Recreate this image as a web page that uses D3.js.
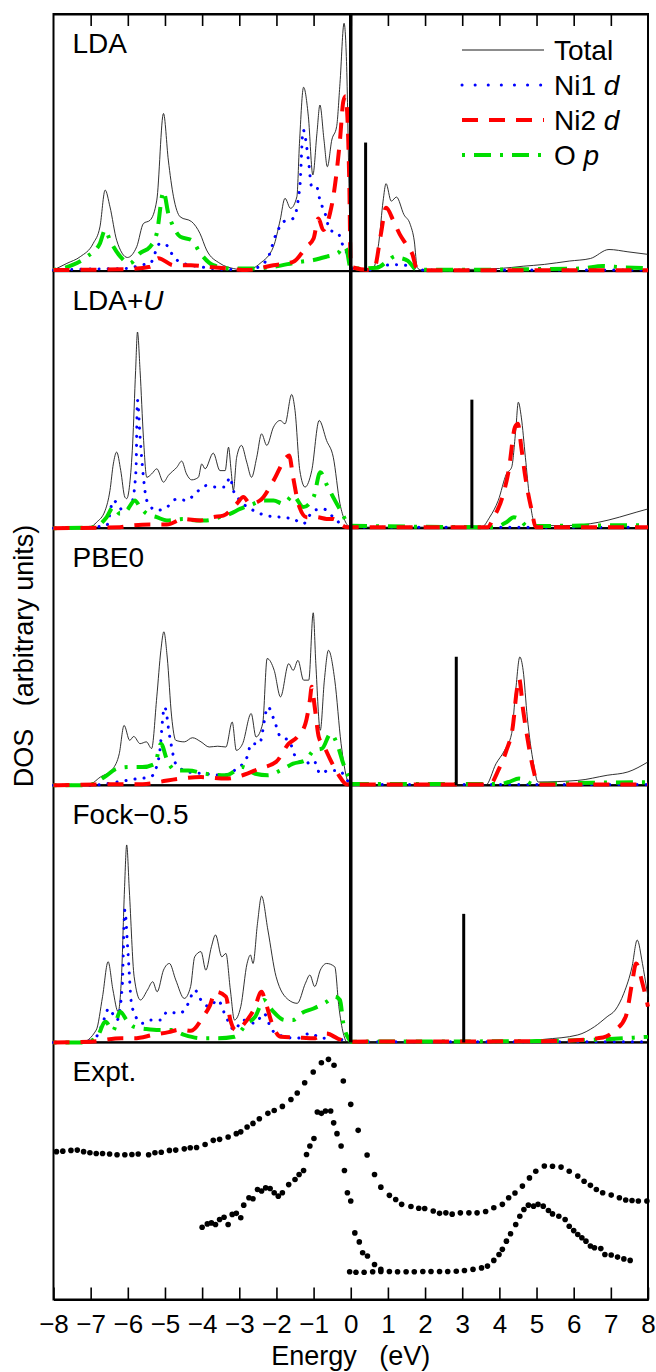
<!DOCTYPE html>
<html>
<head>
<meta charset="utf-8">
<script src="https://cdn.jsdelivr.net/npm/d3@7"></script>
<style>
  body { margin: 0; background: #fff; }
  svg { display: block; font-family: "Liberation Sans", Arial, Helvetica, sans-serif; }
</style>
</head>
<body>
<svg id="chart" width="656" height="1372"></svg>
<script>
// --- values: [energy (eV), DOS as fraction of panel height] ---

const ldaTotal = [[-8,0.004],[-7.64,0.03],[-7.28,0.056],[-6.93,0.108],[-6.75,0.172],[-6.61,0.315],[-6.48,0.25],[-6.3,0.12],[-6.01,0.053],[-5.76,0.095],[-5.58,0.185],[-5.4,0.198],[-5.22,0.276],[-5.04,0.613],[-4.91,0.432],[-4.77,0.289],[-4.59,0.211],[-4.28,0.192],[-4.06,0.147],[-3.88,0.082],[-3.52,0.03],[-3.16,0.01],[-2.8,0.004],[-2.44,0.03],[-2.08,0.095],[-1.9,0.198],[-1.77,0.283],[-1.62,0.244],[-1.45,0.289],[-1.38,0.497],[-1.27,0.715],[-1.14,0.6],[-1.02,0.374],[-0.91,0.536],[-0.83,0.646],[-0.72,0.51],[-0.63,0.406],[-0.51,0.51],[-0.38,0.562],[-0.29,0.73],[-0.18,0.964],[-0.11,0.795],[-0.04,0.276],[0,0.02],[0.3,0.005],[0.6,0.01],[0.76,0.117],[0.87,0.272],[0.95,0.34],[1.09,0.272],[1.23,0.288],[1.43,0.22],[1.6,0.182],[1.71,0.117],[1.79,0.013],[1.88,0.005],[3,0.006],[4,0.01],[4.64,0.019],[5.21,0.026],[5.88,0.039],[6.45,0.049],[6.95,0.084],[7.46,0.075],[8,0.065]];
const ldaNi1 = [[-8,0.004],[-7,0.008],[-6,0.01],[-5.67,0.023],[-5.4,0.03],[-5.13,0.108],[-4.95,0.1],[-4.77,0.056],[-4.5,0.03],[-4.05,0.017],[-3.3,0.006],[-2.62,0.01],[-2.26,0.043],[-2.0,0.147],[-1.81,0.192],[-1.55,0.205],[-1.37,0.328],[-1.28,0.549],[-1.14,0.432],[-1.05,0.328],[-0.92,0.328],[-0.83,0.276],[-0.69,0.224],[-0.56,0.16],[-0.34,0.147],[-0.2,0.095],[-0.07,0.056],[0,0.01],[0.5,0.005],[0.8,0.02],[1.2,0.025],[1.6,0.02],[1.8,0.004],[8,0.004]];
const ldaNi2 = [[-8,0.004],[-6,0.008],[-5.4,0.017],[-5.18,0.05],[-4.77,0.023],[-4.3,0.023],[-3.88,0.017],[-3.3,0.01],[-2.8,0.004],[-2.08,0.023],[-1.55,0.036],[-1.19,0.095],[-1.0,0.127],[-0.87,0.205],[-0.74,0.16],[-0.56,0.224],[-0.47,0.289],[-0.29,0.51],[-0.2,0.66],[-0.14,0.68],[-0.09,0.6],[-0.04,0.35],[0,0.017],[0.5,0.004],[0.64,0.013],[0.81,0.143],[0.95,0.246],[1.15,0.195],[1.32,0.143],[1.49,0.104],[1.66,0.065],[1.77,0.013],[2,0.003],[8,0.003]];
const ldaOp = [[-8,0.004],[-7.5,0.023],[-7.1,0.056],[-6.75,0.108],[-6.61,0.16],[-6.48,0.12],[-6.2,0.056],[-5.95,0.03],[-5.67,0.07],[-5.4,0.095],[-5.22,0.147],[-5.04,0.309],[-4.91,0.224],[-4.77,0.172],[-4.59,0.134],[-4.28,0.12],[-4.05,0.07],[-3.7,0.023],[-3.2,0.01],[-2.6,0.01],[-2.08,0.017],[-1.37,0.036],[-1.0,0.043],[-0.65,0.056],[-0.34,0.07],[-0.2,0.095],[-0.11,0.082],[0,0.01],[0.7,0.013],[1.04,0.045],[1.2,0.058],[1.32,0.052],[1.54,0.04],[1.77,0.006],[3,0.005],[5,0.008],[6.2,0.01],[6.78,0.02],[7.3,0.015],[8,0.012]];

const ldauTotal = [[-8,0],[-7.02,0.004],[-6.84,0.023],[-6.61,0.069],[-6.48,0.147],[-6.39,0.25],[-6.3,0.296],[-6.19,0.224],[-6.08,0.121],[-6.03,0.115],[-5.95,0.17],[-5.87,0.328],[-5.79,0.613],[-5.74,0.763],[-5.67,0.613],[-5.58,0.354],[-5.49,0.198],[-5.36,0.211],[-5.22,0.231],[-5.04,0.179],[-4.91,0.205],[-4.68,0.237],[-4.55,0.261],[-4.42,0.211],[-4.28,0.188],[-4.1,0.198],[-4.01,0.25],[-3.92,0.231],[-3.7,0.292],[-3.52,0.224],[-3.38,0.224],[-3.29,0.315],[-3.22,0.224],[-3.16,0.147],[-3.07,0.276],[-2.94,0.322],[-2.8,0.257],[-2.67,0.198],[-2.53,0.276],[-2.4,0.367],[-2.26,0.322],[-2.08,0.393],[-1.9,0.419],[-1.77,0.406],[-1.59,0.52],[-1.5,0.458],[-1.37,0.224],[-1.23,0.16],[-1.05,0.224],[-0.85,0.419],[-0.65,0.341],[-0.47,0.276],[-0.29,0.095],[-0.16,0.03],[0,0.004],[3.52,0.004],[3.74,0.043],[3.97,0.108],[4.19,0.211],[4.33,0.237],[4.44,0.38],[4.51,0.49],[4.59,0.432],[4.7,0.276],[4.81,0.121],[4.98,0.01],[5.77,0.01],[6.67,0.023],[7.23,0.043],[7.68,0.062],[8,0.075]];
const ldauNi1 = [[-8,0],[-7.02,0.004],[-6.57,0.01],[-6.39,0.108],[-6.12,0.069],[-5.9,0.095],[-5.78,0.224],[-5.74,0.497],[-5.67,0.354],[-5.58,0.198],[-5.49,0.108],[-5.22,0.069],[-4.95,0.082],[-4.68,0.114],[-4.42,0.108],[-4.15,0.14],[-3.88,0.166],[-3.61,0.16],[-3.38,0.16],[-3.25,0.198],[-3.16,0.147],[-2.98,0.108],[-2.62,0.069],[-2.26,0.049],[-1.9,0.043],[-1.55,0.036],[-1.28,0.017],[-1.0,0.069],[-0.74,0.075],[-0.47,0.043],[-0.2,0.01],[0,0.004],[8,0.004]];
const ldauNi2 = [[-8,0],[-6.21,0.004],[-5.94,0.01],[-5.4,0.014],[-4.95,0.014],[-4.5,0.036],[-4.05,0.03],[-3.7,0.043],[-3.43,0.049],[-3.07,0.095],[-2.89,0.121],[-2.71,0.095],[-2.44,0.108],[-2.08,0.185],[-1.73,0.276],[-1.66,0.283],[-1.55,0.198],[-1.41,0.095],[-1.19,0.043],[-0.92,0.043],[-0.65,0.036],[-0.47,0.036],[-0.29,0.017],[-0.1,0.004],[3.68,0.004],[3.85,0.043],[4.08,0.12],[4.25,0.224],[4.42,0.393],[4.5,0.406],[4.59,0.315],[4.7,0.198],[4.87,0.069],[4.98,0.004],[8,0.004]];
const ldauOp = [[-8,0],[-6.9,0.004],[-6.57,0.043],[-6.39,0.082],[-6.21,0.056],[-6.03,0.069],[-5.81,0.108],[-5.67,0.082],[-5.49,0.056],[-5.22,0.043],[-4.95,0.03],[-4.5,0.036],[-4.15,0.03],[-3.88,0.03],[-3.52,0.043],[-3.25,0.056],[-2.98,0.075],[-2.62,0.095],[-2.35,0.108],[-2.08,0.108],[-1.81,0.095],[-1.55,0.127],[-1.28,0.082],[-1.0,0.121],[-0.82,0.218],[-0.65,0.17],[-0.47,0.12],[-0.2,0.049],[-0.06,0.01],[3.85,0.004],[4.19,0.023],[4.39,0.043],[4.53,0.036],[4.75,0.008],[6,0.01],[8,0.012]];

const pbeTotal = [[-8,0],[-7.08,0],[-6.74,0.032],[-6.4,0.065],[-6.23,0.123],[-6.1,0.233],[-5.95,0.175],[-5.84,0.19],[-5.67,0.162],[-5.5,0.169],[-5.36,0.143],[-5.22,0.344],[-5.11,0.525],[-5.03,0.597],[-4.94,0.499],[-4.82,0.266],[-4.71,0.175],[-4.48,0.169],[-4.26,0.185],[-4.03,0.169],[-3.81,0.149],[-3.58,0.152],[-3.36,0.149],[-3.19,0.246],[-3.08,0.136],[-2.91,0.162],[-2.68,0.279],[-2.55,0.188],[-2.37,0.24],[-2.25,0.493],[-2.06,0.447],[-1.89,0.344],[-1.67,0.473],[-1.55,0.447],[-1.42,0.486],[-1.27,0.409],[-1.13,0.409],[-1.01,0.671],[-0.94,0.473],[-0.82,0.214],[-0.71,0.409],[-0.6,0.525],[-0.43,0.409],[-0.26,0.162],[-0.09,0.019],[0,0],[3.63,0],[3.91,0.084],[4.14,0.136],[4.33,0.201],[4.44,0.37],[4.55,0.499],[4.64,0.447],[4.75,0.266],[4.92,0.084],[5.04,0.013],[6.11,0.019],[6.9,0.039],[7.46,0.052],[8,0.091]];
const pbeNi1 = [[-8,0],[-7.0,0],[-6.29,0.013],[-5.72,0.026],[-5.39,0.032],[-5.16,0.11],[-5.01,0.305],[-4.87,0.188],[-4.71,0.084],[-4.37,0.052],[-3.92,0.045],[-3.47,0.039],[-3.13,0.058],[-2.79,0.11],[-2.68,0.162],[-2.46,0.162],[-2.23,0.305],[-2.06,0.253],[-1.89,0.188],[-1.67,0.175],[-1.44,0.097],[-1.22,0.084],[-1.0,0.097],[-0.82,0.045],[-0.6,0.058],[-0.32,0.058],[-0.09,0.019],[0,0.003],[8,0.003]];
const pbeNi2 = [[-8,0],[-6.17,0.004],[-5.6,0.004],[-5.16,0.013],[-4.6,0.026],[-4.03,0.032],[-3.36,0.026],[-2.91,0.039],[-2.46,0.065],[-2.01,0.091],[-1.67,0.162],[-1.44,0.188],[-1.22,0.24],[-1.1,0.331],[-1.05,0.383],[-0.97,0.305],[-0.86,0.188],[-0.71,0.149],[-0.54,0.097],[-0.32,0.039],[-0.1,0.003],[3.74,0.003],[3.97,0.058],[4.19,0.136],[4.36,0.227],[4.47,0.37],[4.53,0.415],[4.64,0.292],[4.78,0.162],[4.92,0.058],[5.04,0.003],[8,0.003]];
const pbeOp = [[-8,0],[-7.08,0],[-6.63,0.032],[-6.29,0.065],[-5.95,0.071],[-5.61,0.071],[-5.27,0.084],[-5.11,0.162],[-4.94,0.097],[-4.71,0.058],[-4.37,0.058],[-3.92,0.045],[-3.36,0.039],[-2.91,0.071],[-2.57,0.045],[-2.23,0.039],[-1.89,0.058],[-1.55,0.084],[-1.22,0.097],[-0.99,0.136],[-0.77,0.143],[-0.54,0.201],[-0.37,0.162],[-0.2,0.084],[-0.03,0.019],[0,0.005],[4.0,0.005],[4.25,0.013],[4.53,0.026],[4.7,0.019],[4.9,0.005],[6.5,0.01],[8,0.012]];

const fockTotal = [[-8,0],[-7.25,0],[-6.85,0.048],[-6.68,0.178],[-6.53,0.314],[-6.4,0.204],[-6.26,0.119],[-6.17,0.256],[-6.09,0.593],[-6.03,0.768],[-5.96,0.593],[-5.83,0.256],[-5.66,0.165],[-5.47,0.204],[-5.33,0.236],[-5.21,0.197],[-5.04,0.281],[-4.88,0.307],[-4.71,0.243],[-4.48,0.171],[-4.31,0.217],[-4.2,0.333],[-4.03,0.353],[-3.9,0.281],[-3.75,0.372],[-3.64,0.418],[-3.47,0.333],[-3.36,0.346],[-3.24,0.204],[-3.13,0.087],[-2.96,0.139],[-2.79,0.307],[-2.7,0.34],[-2.63,0.307],[-2.51,0.463],[-2.4,0.569],[-2.23,0.437],[-2.01,0.256],[-1.67,0.165],[-1.44,0.152],[-1.22,0.23],[-1.1,0.262],[-0.97,0.217],[-0.82,0.281],[-0.65,0.307],[-0.43,0.294],[-0.32,0.139],[-0.2,0.035],[-0.09,0],[4.08,0],[5.21,0.012],[6.11,0.029],[6.56,0.061],[6.9,0.1],[7.12,0.126],[7.35,0.191],[7.57,0.294],[7.71,0.398],[7.85,0.307],[7.97,0.204],[8,0.178]];
const fockNi1 = [[-8,0],[-7.2,0],[-6.85,0.022],[-6.68,0.074],[-6.51,0.132],[-6.29,0.087],[-6.15,0.217],[-6.08,0.515],[-6.0,0.359],[-5.89,0.139],[-5.61,0.074],[-5.39,0.087],[-5.11,0.087],[-4.94,0.119],[-4.6,0.113],[-4.37,0.152],[-4.2,0.204],[-4.03,0.165],[-3.81,0.139],[-3.58,0.165],[-3.36,0.1],[-3.13,0.048],[-2.91,0.087],[-2.57,0.074],[-2.34,0.113],[-2.12,0.048],[-1.78,0.022],[-1.44,0.016],[-1.1,0.035],[-0.77,0.016],[-0.43,0.022],[-0.1,0.003],[8,0.003]];
const fockNi2 = [[-8,0],[-7.0,0.003],[-6.17,0.016],[-5.83,0.016],[-5.3,0.03],[-4.9,0.04],[-4.6,0.05],[-4.3,0.045],[-3.97,0.1],[-3.8,0.14],[-3.64,0.197],[-3.36,0.178],[-3.24,0.087],[-3.1,0.048],[-2.79,0.087],[-2.6,0.13],[-2.4,0.197],[-2.3,0.16],[-2.12,0.074],[-1.89,0.022],[-1.3,0.018],[-1.0,0.016],[-0.65,0.035],[-0.35,0.015],[-0.1,0.003],[5.5,0.005],[6.79,0.019],[7.12,0.048],[7.4,0.1],[7.57,0.23],[7.68,0.307],[7.85,0.23],[8,0.139]];
const fockOp = [[-8,0],[-7.2,0],[-6.85,0.016],[-6.6,0.08],[-6.4,0.045],[-6.21,0.119],[-6.0,0.08],[-5.83,0.06],[-5.5,0.052],[-5.16,0.048],[-4.82,0.048],[-4.48,0.029],[-4.03,0.016],[-3.58,0.016],[-3.13,0.022],[-2.79,0.074],[-2.57,0.1],[-2.34,0.165],[-2.12,0.126],[-1.78,0.087],[-1.55,0.087],[-1.33,0.113],[-1.0,0.132],[-0.65,0.158],[-0.43,0.178],[-0.29,0.165],[-0.2,0.074],[-0.03,0.009],[0,0.003],[5,0.005],[6.5,0.01],[8,0.022]];

// position of the vertical marker in each theory panel (eV) and its height
const markerE = [0.4, 3.26, 2.84, 3.04];
const markerH = 0.5;

// experiment (three dotted data sets)
const exptA = [[-7.92,0.575],[-7.75,0.577],[-7.53,0.58],[-7.36,0.581],[-7.19,0.575],[-7.02,0.571],[-6.85,0.568],[-6.68,0.568],[-6.49,0.566],[-6.29,0.563],[-6.08,0.563],[-5.89,0.564],[-5.72,0.566],[-5.44,0.563],[-5.27,0.571],[-5.1,0.573],[-4.88,0.58],[-4.71,0.581],[-4.48,0.586],[-4.32,0.59],[-4.15,0.591],[-3.92,0.603],[-3.7,0.619],[-3.53,0.623],[-3.3,0.632],[-3.08,0.645],[-2.96,0.652],[-2.79,0.671],[-2.63,0.685],[-2.46,0.703],[-2.23,0.724],[-2.06,0.735],[-1.84,0.751],[-1.61,0.778],[-1.44,0.803],[-1.24,0.843],[-1.01,0.885],[-0.79,0.921],[-0.6,0.934],[-0.45,0.911],[-0.2,0.85],[0,0.759],[0.2,0.658],[0.44,0.562],[0.64,0.486],[0.81,0.437],[1.04,0.405],[1.21,0.389],[1.37,0.37],[1.62,0.362],[1.83,0.355],[1.99,0.354],[2.22,0.344],[2.39,0.335],[2.56,0.337],[2.73,0.332],[2.95,0.337],[3.18,0.337],[3.4,0.337],[3.63,0.342],[3.85,0.357],[4.08,0.37],[4.25,0.396],[4.42,0.414],[4.62,0.441],[4.81,0.473],[4.98,0.499],[5.21,0.519],[5.43,0.518],[5.66,0.515],[5.88,0.499],[6.11,0.48],[6.28,0.46],[6.45,0.444],[6.61,0.428],[6.78,0.415],[7.01,0.406],[7.23,0.396],[7.4,0.387],[7.57,0.385],[7.74,0.383],[7.97,0.383]];
const exptB = [[-4.0,0.281],[-3.86,0.294],[-3.75,0.298],[-3.64,0.292],[-3.53,0.311],[-3.41,0.32],[-3.3,0.292],[-3.19,0.331],[-3.08,0.335],[-2.96,0.318],[-2.88,0.367],[-2.74,0.396],[-2.63,0.392],[-2.51,0.428],[-2.4,0.422],[-2.29,0.434],[-2.17,0.432],[-2.06,0.415],[-1.95,0.402],[-1.84,0.415],[-1.67,0.447],[-1.5,0.467],[-1.39,0.486],[-1.27,0.502],[-1.19,0.564],[-1.1,0.597],[-0.99,0.626],[-0.9,0.729],[-0.79,0.724],[-0.68,0.733],[-0.54,0.733],[-0.46,0.687],[-0.37,0.645],[-0.26,0.597],[-0.17,0.502],[-0.09,0.415],[0,0.383],[0.11,0.259],[0.23,0.224],[0.32,0.182],[0.45,0.169],[0.64,0.136],[0.81,0.117]];
const exptC = [[-0.03,0.108],[0.14,0.106],[0.36,0.106],[0.59,0.108],[0.81,0.109],[1.04,0.109],[1.26,0.108],[1.49,0.108],[1.71,0.108],[1.94,0.109],[2.16,0.109],[2.39,0.109],[2.61,0.109],[2.84,0.11],[3.06,0.113],[3.29,0.117],[3.52,0.123],[3.68,0.13],[3.85,0.152],[3.99,0.175],[4.08,0.195],[4.19,0.227],[4.3,0.256],[4.44,0.292],[4.55,0.324],[4.66,0.35],[4.78,0.367],[4.92,0.363],[5.04,0.37],[5.18,0.363],[5.32,0.346],[5.43,0.333],[5.6,0.324],[5.77,0.311],[5.88,0.285],[6.0,0.268],[6.11,0.253],[6.22,0.24],[6.33,0.227],[6.45,0.208],[6.56,0.201],[6.73,0.198],[6.84,0.175],[7.01,0.173],[7.18,0.165],[7.35,0.158],[7.52,0.152]];

const panelNames = ['LDA', 'LDA+U', 'PBE0', 'Fock\u22120.5', 'Expt.'];
const tickEnergies = d3.range(-8, 9);
const legendLabels = [['Total', ''], ['Ni1 ', 'd'], ['Ni2 ', 'd'], ['O ', 'p']];

// --- layout ---
const svg = d3.select('#chart');
const plotLeft = 53.5, plotRight = 648, plotTop = 14, panelH = 257.1;

const x = d3.scaleLinear().domain([-8, 8]).range([plotLeft, plotRight]);
const base = i => plotTop + (i + 1) * panelH;
const yFor = i => d3.scaleLinear().domain([0, 1]).range([base(i), base(i) - panelH]);

const styles = {
	total: { stroke: '#1a1a1a', width: 0.9, dash: null, cap: 'butt' },
	ni1: { stroke: '#0000ff', width: 3, dash: '0.1 9', cap: 'round' },
	ni2: { stroke: '#ff0000', width: 4, dash: '16 11', cap: 'butt' },
	op: { stroke: '#00dd00', width: 4, dash: '3 9 17 9', cap: 'butt' }
};

const theory = [
	{ total: ldaTotal, ni1: ldaNi1, ni2: ldaNi2, op: ldaOp },
	{ total: ldauTotal, ni1: ldauNi1, ni2: ldauNi2, op: ldauOp },
	{ total: pbeTotal, ni1: pbeNi1, ni2: pbeNi2, op: pbeOp },
	{ total: fockTotal, ni1: fockNi1, ni2: fockNi2, op: fockOp }
];

// panel frames
svg.append('g').selectAll('rect').data(panelNames).join('rect')
	.attr('x', plotLeft).attr('y', (d, i) => plotTop + i * panelH)
	.attr('width', plotRight - plotLeft).attr('height', panelH)
	.attr('fill', 'none').attr('stroke', '#000').attr('stroke-width', 2);

// curves
theory.forEach((p, i) => {
	const y = yFor(i);
	const line = d3.line().x(d => x(d[0])).y(d => y(d[1])).curve(d3.curveMonotoneX);
	const g = svg.append('g');
	['total', 'ni1', 'op', 'ni2'].forEach(key => {
		const s = styles[key];
		g.append('path').datum(p[key])
			.attr('d', line)
			.attr('fill', 'none')
			.attr('stroke', s.stroke)
			.attr('stroke-width', s.width)
			.attr('stroke-dasharray', s.dash)
			.attr('stroke-linecap', s.cap)
			.attr('stroke-linejoin', 'round');
	});
	g.append('line')
		.attr('x1', x(markerE[i])).attr('x2', x(markerE[i]))
		.attr('y1', y(0)).attr('y2', y(markerH))
		.attr('stroke', '#000').attr('stroke-width', 3);
});

// zero energy line through the theory panels
svg.append('line')
	.attr('x1', x(0)).attr('x2', x(0))
	.attr('y1', plotTop).attr('y2', base(3))
	.attr('stroke', '#000').attr('stroke-width', 3.5);

// experiment dots
const yE = yFor(4);
svg.append('g').selectAll('circle').data([...exptA, ...exptB, ...exptC]).join('circle')
	.attr('cx', d => x(d[0])).attr('cy', d => yE(d[1])).attr('r', 2.8).attr('fill', '#000');

// panel labels
const labels = svg.append('g').attr('font-size', 28).attr('fill', '#000');
panelNames.forEach((name, i) => {
	const t = labels.append('text').attr('x', 72.5).attr('y', plotTop + i * panelH + 39);
	if (name === 'LDA+U') {
		t.append('tspan').text('LDA+');
		t.append('tspan').attr('font-style', 'italic').text('U');
	} else {
		t.text(name);
	}
});

// legend
const legend = svg.append('g');
['total', 'ni1', 'ni2', 'op'].forEach((key, i) => {
	const s = styles[key];
	const yy = 50 + i * 35;
	legend.append('line')
		.attr('x1', 462).attr('x2', 544).attr('y1', yy).attr('y2', yy)
		.attr('stroke', s.stroke).attr('stroke-width', key === 'total' ? 1 : s.width)
		.attr('stroke-dasharray', key === 'ni1' ? '0.1 13' : s.dash)
		.attr('stroke-linecap', s.cap);
	const t = legend.append('text').attr('x', 554).attr('y', yy + 10).attr('font-size', 28);
	t.append('tspan').text(legendLabels[i][0]);
	t.append('tspan').attr('font-style', 'italic').text(legendLabels[i][1]);
});

// axes: ticks on top of first panel and bottom of last
const topAxis = svg.append('g').attr('transform', `translate(0,${plotTop})`)
	.call(d3.axisTop(x).tickValues(d3.range(-7, 8)).tickSize(-12).tickSizeOuter(0).tickFormat(''));
topAxis.select('.domain').attr('stroke-width', 2);
topAxis.selectAll('.tick line').attr('stroke-width', 1.6);

const bottomAxis = svg.append('g').attr('transform', `translate(0,${base(4)})`)
	.call(d3.axisBottom(x).tickValues(tickEnergies).tickSize(-12).tickSizeOuter(0).tickPadding(15));
bottomAxis.select('.domain').attr('stroke-width', 2);
bottomAxis.selectAll('.tick line').attr('stroke-width', 1.6);
bottomAxis.selectAll('.tick text')
	.attr('font-size', 26)
	.attr('font-family', '"Liberation Sans", Arial, Helvetica, sans-serif')
	.attr('fill', '#000');

// axis titles
svg.append('text')
	.attr('x', x(0)).attr('y', 1365)
	.attr('text-anchor', 'middle').attr('font-size', 27)
	.style('white-space', 'pre')
	.text('Energy   (eV)');

svg.append('text')
	.attr('transform', 'translate(33,656) rotate(-90)')
	.attr('text-anchor', 'middle').attr('font-size', 27)
	.style('white-space', 'pre')
	.text('DOS   (arbitrary units)');
</script>
</body>
</html>
